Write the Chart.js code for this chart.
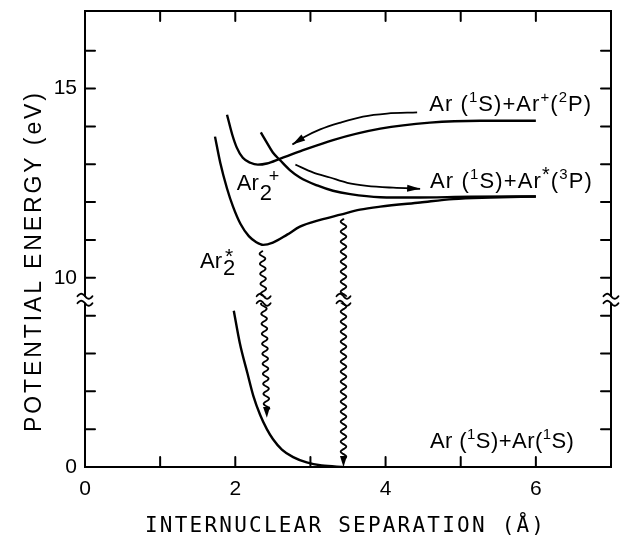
<!DOCTYPE html>
<html>
<head>
<meta charset="utf-8">
<script src="https://cdn.jsdelivr.net/npm/chart.js@4/dist/chart.umd.min.js"></script>
<style>
  body { margin: 0; background: #fff; }
  #wrap { width: 621px; height: 540px; }
</style>
</head>
<body>
<div id="wrap"><canvas id="chart"></canvas></div>
<script>
// broken energy axis: everything above the break is shifted down by GAP eV
const GAP = 5;
const BREAK_AT = 4.42;   // axis position of the ≈ marks

const xTickValues = [0, 1, 2, 3, 4, 5, 6, 7];
const xTickLabels = ['0', '', '2', '', '4', '', '6', ''];
const yTickEnergies = [0, 1, 2, 3, 4, 10, 11, 12, 13, 14, 15, 16];
const yTickLabels = ['0', '', '', '', '', '10', '', '', '', '', '15', ''];

// Ar(1S)+Ar(1S) ground state
const groundR = [1.98, 2.06, 2.16, 2.24, 2.33, 2.42, 2.50, 2.62, 2.77, 2.95, 3.15, 3.45];
const groundE = [4.13, 3.28, 2.49, 1.88, 1.38, 1.00, 0.74, 0.46, 0.26, 0.12, 0.04, 0.0];

// Ar2* excimer
const excimerR = [1.73, 1.80, 1.89, 1.97, 2.07, 2.18, 2.28, 2.37, 2.50, 2.69, 2.86, 3.13, 3.40, 3.66, 3.93, 4.46, 4.90, 5.40, 6.0];
const excimerE = [13.73, 13.04, 12.36, 11.88, 11.42, 11.10, 10.94, 10.87, 10.93, 11.14, 11.35, 11.53, 11.67, 11.80, 11.88, 11.99, 12.08, 12.12, 12.15];

// Ar2+ molecular ion
const ionR = [1.89, 1.96, 2.02, 2.10, 2.20, 2.30, 2.42, 2.60, 2.86, 3.30, 3.93, 4.59, 5.26, 6.0];
const ionE = [14.31, 13.78, 13.44, 13.17, 13.04, 12.99, 13.02, 13.15, 13.34, 13.64, 13.94, 14.10, 14.15, 14.15];

// repulsive curve going to Ar(1S)+Ar*(3P)
const repulsiveR = [2.34, 2.42, 2.50, 2.60, 2.73, 2.86, 3.09, 3.30, 3.53, 3.93, 4.37, 5.13, 6.0];
const repulsiveE = [13.84, 13.57, 13.31, 13.10, 12.84, 12.65, 12.44, 12.30, 12.21, 12.13, 12.12, 12.14, 12.15];

// transition arrows, tail first
const captureR = [4.42, 4.02, 3.70, 3.40, 3.13, 2.90, 2.76];
const captureE = [14.37, 14.34, 14.26, 14.10, 13.92, 13.70, 13.52];
const releaseR = [2.80, 3.04, 3.26, 3.49, 3.75, 4.10, 4.46];
const releaseE = [12.99, 12.78, 12.65, 12.51, 12.43, 12.38, 12.35];

// photon emission (wavy arrows)
const emitFromR = [2.36, 3.44];
const emitFromE = [10.70, 11.55];
const emitToR = [2.42, 3.44];
const emitToE = [1.30, 0.0];

const toAxis = e => (e >= 9 ? e - GAP : e);
const pts = (rs, es) => rs.map((r, i) => ({ x: r, y: toAxis(es[i]) }));

const FONT = '"Liberation Sans", Arial, sans-serif';

function curve(data, width) {
  return {
    data,
    borderColor: '#000',
    borderWidth: width,
    pointRadius: 0,
    fill: false,
    cubicInterpolationMode: 'monotone'
  };
}

function tilde(ctx, cx, cy, w, a) {
  ctx.beginPath();
  for (let i = 0; i <= 20; i++) {
    const t = i / 20;
    const px = cx - w / 2 + w * t;
    const py = cy - a * Math.sin(2 * Math.PI * t);
    i ? ctx.lineTo(px, py) : ctx.moveTo(px, py);
  }
  ctx.stroke();
}

function breakMark(ctx, cx, cy, w) {
  ctx.save();
  ctx.fillStyle = '#fff';
  ctx.fillRect(cx - w / 2, cy - 3, w, 6);
  ctx.lineWidth = 1.8;
  tilde(ctx, cx, cy - 3.5, w, 2.5);
  tilde(ctx, cx, cy + 3.5, w, 2.5);
  ctx.restore();
}

function arrowHead(ctx, tipX, tipY, fromX, fromY, len, half) {
  const d = Math.hypot(tipX - fromX, tipY - fromY);
  const ux = (tipX - fromX) / d, uy = (tipY - fromY) / d;
  const bx = tipX - ux * len, by = tipY - uy * len;
  ctx.beginPath();
  ctx.moveTo(tipX, tipY);
  ctx.lineTo(bx - uy * half, by + ux * half);
  ctx.lineTo(bx + uy * half, by - ux * half);
  ctx.closePath();
  ctx.fill();
}

function wavyArrow(ctx, x0, y0, x1, y1, breakY) {
  const len = Math.hypot(x1 - x0, y1 - y0);
  const ux = (x1 - x0) / len, uy = (y1 - y0) / len;
  const nx = -uy, ny = ux;
  const head = 11;
  ctx.lineWidth = 1.8;
  ctx.beginPath();
  for (let s = 0; s <= len - head + 2; s += 0.5) {
    const off = 2.8 * Math.sin(2 * Math.PI * s / 10);
    const px = x0 + ux * s + nx * off, py = y0 + uy * s + ny * off;
    s ? ctx.lineTo(px, py) : ctx.moveTo(px, py);
  }
  ctx.stroke();
  arrowHead(ctx, x1, y1, x0, y0, head, 3.5);
  const sb = (breakY - y0) / uy;
  breakMark(ctx, x0 + ux * sb, breakY, 14);
}

// text with superscripts, stretched by letter spacing to a given width
function richText(ctx, parts, x, y, size, width) {
  ctx.textAlign = 'left';
  ctx.textBaseline = 'alphabetic';
  const fontFor = (t, lvl) => (lvl ? size * (t === '*' ? 0.9 : 0.68) : size) + 'px ' + FONT;
  let natural = 0, chars = 0;
  for (const [t, lvl] of parts) {
    ctx.font = fontFor(t, lvl);
    natural += ctx.measureText(t).width;
    chars += t.length;
  }
  const sp = Math.max(0, (width - natural) / (chars - 1));
  ctx.letterSpacing = sp + 'px';
  for (const [t, lvl] of parts) {
    ctx.font = fontFor(t, lvl);
    ctx.fillText(t, x, lvl ? y - size * (t === '*' ? 0.3 : 0.4) : y);
    x += ctx.measureText(t).width;
  }
  ctx.letterSpacing = '0px';
}

function spacedText(ctx, text, left, cy, width) {
  ctx.letterSpacing = '0px';
  const w = ctx.measureText(text).width;
  ctx.letterSpacing = ((width - w) / (text.length - 1)) + 'px';
  ctx.textAlign = 'left';
  ctx.textBaseline = 'middle';
  ctx.fillText(text, left, cy);
  ctx.letterSpacing = '0px';
}

const stateLabels = [
  { r: 4.58, e: 14.63, w: 162, parts: [['Ar (', 0], ['1', 1], ['S)+Ar', 0], ['+', 1], ['(', 0], ['2', 1], ['P)', 0]] },
  { r: 4.59, e: 12.59, w: 162, parts: [['Ar (', 0], ['1', 1], ['S)+Ar', 0], ['*', 1], ['(', 0], ['3', 1], ['P)', 0]] },
  { r: 4.59, e: 0.71, w: 144, parts: [['Ar (', 0], ['1', 1], ['S)+Ar(', 0], ['1', 1], ['S)', 0]] }
];

const decorations = {
  id: 'decorations',
  afterDatasetsDraw(chart) {
    const { ctx, chartArea: a, scales: { x, y } } = chart;
    ctx.save();
    ctx.strokeStyle = '#000';
    ctx.fillStyle = '#000';
    ctx.lineCap = 'round';

    // frame and inward ticks
    ctx.lineWidth = 2;
    ctx.strokeRect(a.left, a.top, a.right - a.left, a.bottom - a.top);
    ctx.beginPath();
    xTickValues.forEach(v => {
      const px = x.getPixelForValue(v);
      if (v === 0 || v === 7) return;
      ctx.moveTo(px, a.bottom); ctx.lineTo(px, a.bottom - 10);
      ctx.moveTo(px, a.top); ctx.lineTo(px, a.top + 10);
    });
    yTickEnergies.forEach(e => {
      const py = y.getPixelForValue(toAxis(e));
      if (e === 0) return;
      ctx.moveTo(a.left, py); ctx.lineTo(a.left + 10, py);
      ctx.moveTo(a.right, py); ctx.lineTo(a.right - 10, py);
    });
    ctx.stroke();

    const breakY = y.getPixelForValue(BREAK_AT);
    breakMark(ctx, a.left, breakY, 15);
    breakMark(ctx, a.right, breakY, 15);

    // tick labels
    ctx.font = '21px ' + FONT;
    ctx.textAlign = 'center';
    ctx.textBaseline = 'middle';
    xTickValues.forEach((v, i) => {
      if (xTickLabels[i]) ctx.fillText(xTickLabels[i], x.getPixelForValue(v), a.bottom + 22);
    });
    ctx.textAlign = 'right';
    yTickEnergies.forEach((e, i) => {
      if (yTickLabels[i]) ctx.fillText(yTickLabels[i], a.left - 8, y.getPixelForValue(toAxis(e)));
    });

    // axis titles
    ctx.font = '21px "DejaVu Sans Mono", monospace';
    spacedText(ctx, 'INTERNUCLEAR SEPARATION (Å)', 145, 527, 399);
    ctx.save();
    ctx.translate(35, 262);
    ctx.rotate(-Math.PI / 2);
    ctx.font = '23px ' + FONT;
    spacedText(ctx, 'POTENTIAL ENERGY (eV)', -170, 0, 339);
    ctx.restore();

    // transition arrowheads
    [[captureR, captureE], [releaseR, releaseE]].forEach(([rs, es]) => {
      const n = rs.length;
      arrowHead(ctx,
        x.getPixelForValue(rs[n - 1]), y.getPixelForValue(toAxis(es[n - 1])),
        x.getPixelForValue(rs[n - 2]), y.getPixelForValue(toAxis(es[n - 2])), 13, 3.5);
    });

    // emission
    emitFromR.forEach((r, i) => {
      wavyArrow(ctx,
        x.getPixelForValue(r), y.getPixelForValue(toAxis(emitFromE[i])),
        x.getPixelForValue(emitToR[i]), y.getPixelForValue(toAxis(emitToE[i])),
        breakY);
    });

    // state labels
    stateLabels.forEach(l => {
      richText(ctx, l.parts, x.getPixelForValue(l.r), y.getPixelForValue(toAxis(l.e)) + 8, 22, l.w);
    });

    // molecule labels
    ctx.font = '22px ' + FONT;
    ctx.textAlign = 'left';
    ctx.textBaseline = 'alphabetic';
    let px = x.getPixelForValue(2.02), py = y.getPixelForValue(toAxis(12.33));
    ctx.fillText('Ar', px, py);
    let w = ctx.measureText('Ar').width;
    ctx.fillText('2', px + w + 1, py + 10);
    ctx.font = '18px ' + FONT;
    ctx.fillText('+', px + w + 10, py - 8);

    ctx.font = '22px ' + FONT;
    px = x.getPixelForValue(1.53); py = y.getPixelForValue(toAxis(10.26));
    ctx.fillText('Ar', px, py);
    w = ctx.measureText('Ar').width;
    ctx.fillText('2', px + w + 1, py + 7);
    ctx.font = '21px ' + FONT;
    ctx.fillText('*', px + w + 3, py - 5);

    ctx.restore();
  }
};

new Chart(document.getElementById('chart'), {
  type: 'line',
  data: {
    datasets: [
      curve(pts(groundR, groundE), 2.4),
      curve(pts(excimerR, excimerE), 2.4),
      curve(pts(ionR, ionE), 2.4),
      curve(pts(repulsiveR, repulsiveE), 2.4),
      curve(pts(captureR, captureE), 1.8),
      curve(pts(releaseR, releaseE), 1.8)
    ]
  },
  options: {
    responsive: true,
    maintainAspectRatio: false,
    animation: false,
    layout: { padding: { top: 11, right: 10, left: 0, bottom: 0 } },
    plugins: { legend: { display: false }, tooltip: { enabled: false } },
    scales: {
      x: {
        type: 'linear', min: 0, max: 7,
        grid: { display: false }, border: { display: false },
        ticks: { display: false },
        afterFit: s => { s.height = 73; }
      },
      y: {
        type: 'linear', min: 0, max: 12.05,
        grid: { display: false }, border: { display: false },
        ticks: { display: false },
        afterFit: s => { s.width = 85; }
      }
    }
  },
  plugins: [decorations]
});
</script>
</body>
</html>
